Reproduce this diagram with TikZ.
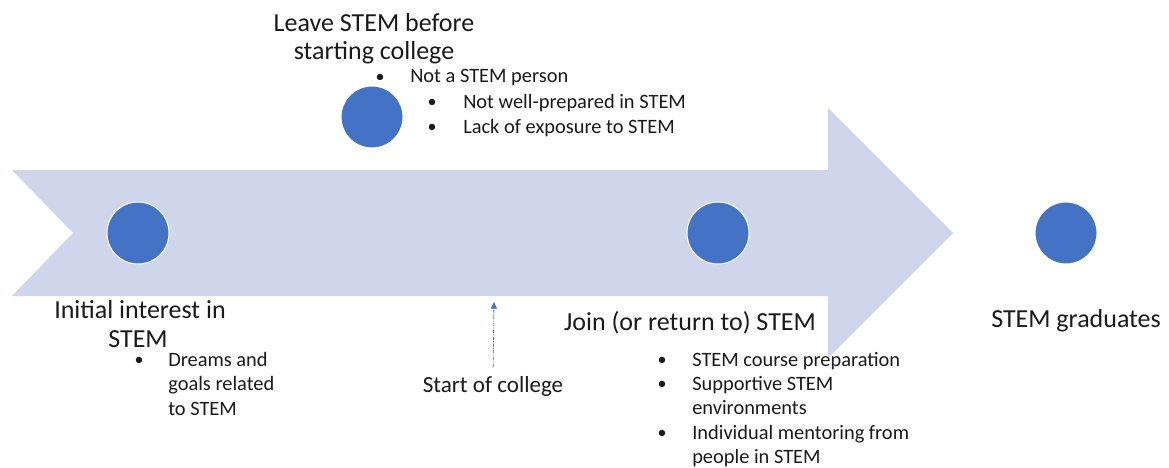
\documentclass[tikz,border=0pt]{standalone}
\usepackage{fontspec}
\setmainfont{Carlito}
\usetikzlibrary{arrows.meta}
\definecolor{arrowfill}{HTML}{CFD5EA}
\definecolor{dotblue}{HTML}{4472C4}
\definecolor{txt}{HTML}{1A1A1A}
\begin{document}
\begin{tikzpicture}[x=0.75pt,y=-0.75pt,
  stage/.style={circle,fill=dotblue,draw=white,line width=0.75pt,minimum size=46.5pt,inner sep=0pt},
  title/.style={anchor=base,inner sep=0pt,text=txt,font=\fontsize{19.5}{21}\selectfont},
  bullet/.style={anchor=base,inner sep=0pt,text=txt,font=\fontsize{13.5}{16}\selectfont},
  item/.style={anchor=base west,inner sep=0pt,text=txt,font=\fontsize{15.3}{18}\selectfont},
  pointer/.style={draw=dotblue,line width=0.6pt,dash pattern=on 2.5pt off 1pt on 0.6pt off 1pt,-{Triangle[length=5pt,width=4.5pt]}}
]
\useasboundingbox (0,0) rectangle (1169,467);
\fill[white] (0,0) rectangle (1169,467);
% big timeline arrow
\fill[arrowfill] (12,170) -- (828,170) -- (828,108) -- (953,233) -- (828,358) -- (828,296) -- (12,296) -- (73,233) -- cycle;
% stage dots
\node[stage] (s1) at (138,233) {};
\node[stage] (s2) at (372,117) {};
\node[stage] (s3) at (718,233) {};
\node[stage] (s4) at (1066,233) {};
% leave STEM
\node[title] (leave1) at (374,32) {Leave STEM before};
\node[title] (leave2) at (374,60) {starting college};
\node[bullet] (lb1) at (380,82) {•};
\node[item] (lt1) at (410,83) {Not a STEM person};
\node[bullet] (lb2) at (432,107) {•};
\node[item] (lt2) at (463,108) {Not well-prepared in STEM};
\node[bullet] (lb3) at (432,132) {•};
\node[item] (lt3) at (463,133) {Lack of exposure to STEM};
% initial interest
\node[title] (init1) at (140,318) {Initial interest in};
\node[title] (init2) at (138,347) {STEM};
\node[bullet] (ib1) at (139,365) {•};
\node[item] (it1a) at (168,366) {Dreams and};
\node[item] (it1b) at (168,390.5) {goals related};
\node[item] (it1c) at (168,415) {to STEM};
% start of college
\node[title,font=\fontsize{17.3}{20}\selectfont] (college) at (493,392) {Start of college};
\coordinate (collegetip) at (494,302);
\draw[pointer,shorten <=6.5pt] (college.north) -- (collegetip);
% join
\node[title] (join) at (690,330) {Join (or return to) STEM};
\node[bullet] (jb1) at (662,365) {•};
\node[item] (jt1) at (692,366) {STEM course preparation};
\node[bullet] (jb2) at (662,389) {•};
\node[item] (jt2a) at (692,390) {Supportive STEM};
\node[item] (jt2b) at (692,414) {environments};
\node[bullet] (jb3) at (662,438) {•};
\node[item] (jt3a) at (692,439) {Individual mentoring from};
\node[item] (jt3b) at (692,463) {people in STEM};
% graduates
\node[title] (grad) at (1076,327) {STEM graduates};
\end{tikzpicture}
\end{document}
